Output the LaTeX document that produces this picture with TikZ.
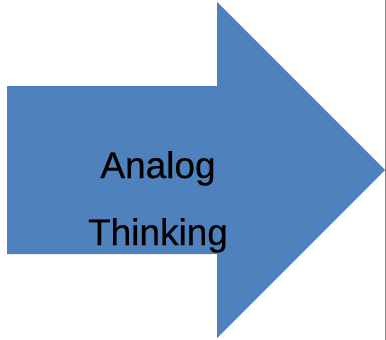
\documentclass[tikz,border=0pt]{standalone}
\usepackage{fontspec}
\setmainfont{Liberation Sans}
\newfontfamily\labelfont[FakeBold=0.4]{Liberation Sans}
\definecolor{arrowblue}{HTML}{4F81BD}

\begin{document}
\begin{tikzpicture}[x=1pt,y=-1pt,
    label text/.style={font=\labelfont\fontsize{37}{37}\selectfont, text=black, inner sep=0pt, anchor=base}]
    \useasboundingbox (0,0) rectangle (386,340);

    \fill[arrowblue] (7,86) -- (217,86) -- (217,2) -- (385,170) -- (217,338) -- (217,254) -- (7,254) -- cycle;
    \draw[gray, line width=1pt] (385,0) -- (385,340);

    \begin{scope}
        \clip (0,0) rectangle (386,252);
        \node[label text] (analog) at (158,178) {Analog};
        \node[label text] (thinking) at (158,245) {Thinking};
    \end{scope}
\end{tikzpicture}
\end{document}
